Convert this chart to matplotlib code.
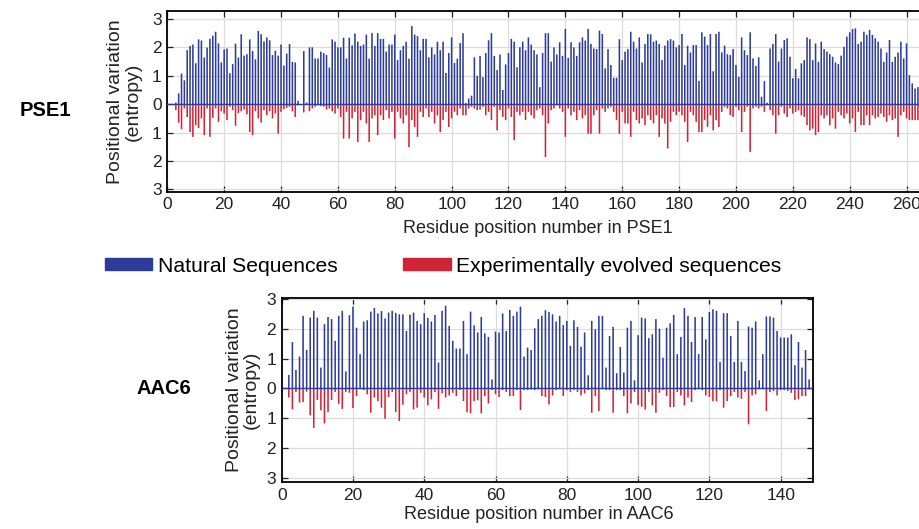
import numpy as np
import matplotlib
matplotlib.use("Agg")
from matplotlib import pyplot as plt
from matplotlib.patches import Patch
from matplotlib.ticker import FuncFormatter

plt.rcParams['font.family'] = ['Liberation Sans', 'DejaVu Sans']

# PSE1: entropy per residue, first bar at residue 3
pse1_start = 3
pse1_natural = [
    0.06, 0.38, 1.08, 0.84, 1.9, 2.05, 2.1, 1.44, 2.28, 2.24, 1.64, 1.99, 2.3, 2.41, 2.55, 2.14, 1.47, 1.93, 1.96, 1.09,
    1.41, 2.13, 1.64, 2.46, 1.71, 1.76, 2.28, 1.87, 1.58, 2.58, 2.46, 2.21, 2.35, 2.25, 1.73, 1.88, 1.71, 2.1, 1.36, 1.78,
    2.12, 1.49, 1.47,
    0.12, 0.0, 1.87, 0.06,
    2.0, 2.0, 1.61, 1.61, 1.85, 1.8, 1.73, 1.29, 2.28, 2.2, 2.0, 2.0, 2.34, 1.61, 2.34, 2.07, 2.49, 2.2,
    2.05, 2.1, 2.45, 1.6, 2.5, 2.05, 2.5, 2.3, 2.3, 1.85, 2.1, 2.1, 2.45, 1.55, 1.9, 2.05, 2.2, 1.6, 2.75, 2.45,
    2.4, 1.9, 2.3, 2.3, 1.65, 2.0, 1.75, 2.2, 1.9, 2.2, 1.1, 1.8, 2.35, 1.45, 1.6, 2.15, 2.5, 0.04, 0.2, 0.3,
    1.65, 1.0, 1.7, 0.95, 1.8, 2.25, 2.5, 1.7, 1.2, 1.75, 0.5, 1.4, 1.8, 2.3, 2.2, 1.3, 2.0, 2.2, 1.9, 2.35,
    2.1, 1.9, 1.75,
    0.6, 1.8, 2.5, 2.5, 1.5, 2.0, 1.75, 2.18, 1.7, 2.65, 1.63, 2.18, 2.0, 1.7, 2.18, 2.35, 2.24, 2.65, 2.12, 1.96,
    1.94, 2.59, 2.47, 1.26, 1.94, 1.38, 0.93, 0.93, 2.29, 1.55, 1.85, 1.94, 2.55, 2.2, 1.96, 2.35, 1.47, 2.12, 2.47, 2.46,
    2.2, 2.24, 2.12, 1.55, 2.06, 2.24, 2.29, 2.24, 2.0, 2.08, 2.47, 1.38, 2.06, 1.82, 2.08, 2.08, 0.82, 2.53, 2.38, 2.08,
    2.47, 1.16, 2.47, 2.55, 1.82, 2.06, 1.76, 1.73, 1.94, 1.38,
    0.96, 2.35, 1.9, 1.73, 2.53, 1.61, 1.35, 1.65, 0.26, 0.81, 0.05,
    1.96, 2.12, 2.47, 1.5, 1.96, 2.26, 2.32, 1.67, 0.91, 1.24, 0.91, 1.44, 1.55, 2.35, 2.29, 1.55, 2.14, 1.49, 2.2, 1.94,
    1.85, 1.76, 1.67, 1.47, 1.41, 1.71, 2.02, 2.38, 2.53, 2.65, 2.67, 2.12, 2.2, 2.55, 2.44, 2.61, 2.44, 2.32, 2.2, 1.96,
    1.49, 1.82, 2.26, 1.49, 1.67, 1.82, 2.2, 1.61, 2.14, 1.02, 0.73, 0.55, 0.6, 0.45,
]
pse1_evolved = [
    0.21, 0.65, 0.88, 0.15, 0.45, 0.98, 1.15, 0.74, 0.84, 0.5, 1.09, 0.15, 1.15, 0.48, 0.15, 0.62, 0.25, 0.33, 0.56, 0.09,
    0.21, 0.76, 0.31, 0.25, 0.19, 0.36, 0.98, 1.09, 0.25, 0.5, 0.65, 0.21, 0.39, 0.25, 0.5, 0.33, 1.04, 0.27, 0.18, 0.13,
    0.09, 0.25, 0.45,
    0.04, 0.0, 0.29, 0.03, 0.25, 0.15, 0.09, 0.04, 0.07, 0.09, 0.19, 0.15, 0.25, 0.33, 0.15, 0.45, 1.21, 0.27, 1.21, 0.5,
    0.27, 1.33,
    0.56, 0.27, 0.68, 1.33, 0.5, 0.39, 1.09, 0.39, 0.56, 0.21, 0.5, 0.27, 1.21, 0.27, 0.5, 0.68, 0.39, 1.51, 0.56, 0.8,
    1.15, 0.27, 0.45, 0.15, 0.45, 0.27, 0.68, 0.39, 0.98, 0.56, 0.27, 0.8, 0.5, 0.27, 0.39, 0.15, 0.39, 0.39, 0.15, 0.09,
    0.15, 0.21, 0.19, 0.09, 0.39, 0.27, 0.56, 0.09, 0.92, 0.21, 0.45, 0.56, 0.15, 0.45, 1.27, 0.27, 0.39, 0.27, 0.56, 0.27,
    0.39, 0.5, 0.21,
    0.15, 0.39, 1.86, 0.68, 0.21, 0.15, 0.04, 0.15, 0.27, 1.15, 0.15, 0.39, 0.27, 0.56, 0.21, 0.5, 0.39, 1.04, 1.04, 0.39,
    0.21, 1.04, 0.15, 0.27, 0.15, 0.09, 0.27, 0.56, 1.04, 0.27, 0.68, 0.68, 1.15, 0.27, 0.56, 0.68, 0.5, 0.74, 0.39, 0.56,
    0.68, 0.39, 1.15, 0.5, 0.68, 1.56, 0.62, 0.27, 0.39, 0.27, 0.39, 0.62, 1.33, 0.27, 0.39, 0.62, 0.98, 0.98, 0.56, 0.8,
    0.39, 0.92, 0.56, 0.8, 0.27, 0.09, 0.15, 0.39, 0.45, 0.09,
    0.21, 0.98, 0.27, 0.09, 1.68, 0.15, 0.09, 0.15, 0.09, 0.27, 0.04, 0.21, 0.39, 1.04, 0.39, 0.09, 0.33, 0.45, 0.15, 0.33,
    0.27, 0.21, 0.39, 0.45, 0.74, 0.92, 0.86, 1.09, 0.98, 0.39, 0.5, 0.39, 0.74, 0.5, 0.86, 0.27, 0.39, 0.5, 0.33, 0.68,
    0.5, 0.98, 0.27, 0.74, 0.74, 0.39, 0.74, 0.39, 0.5, 0.45, 0.33, 0.45, 0.62, 0.39, 0.56, 0.5, 1.15, 0.39, 0.27, 0.5,
    0.56, 0.56, 0.56, 0.56, 0.55,
]

# AAC6: first bar at residue 2
aac6_start = 2
aac6_natural = [
    0.45, 1.56, 0.62, 1.07, 2.44, 1.29, 2.38, 2.61, 2.38, 0.7, 2.16, 2.4, 2.33, 1.6, 2.44, 2.61, 0.57, 2.46, 2.75, 2.04,
    1.15, 2.25, 2.29, 2.58, 2.71, 2.52, 2.6, 2.35, 2.55, 2.61, 2.54, 2.49, 2.49, 1.93, 2.48, 2.55, 2.27, 2.16, 2.53, 2.37,
    2.25, 2.47, 0.87, 2.61, 2.78, 2.1,
    1.6, 1.34, 1.34, 2.27, 1.15, 2.58, 2.12, 1.88, 2.4, 1.85, 1.73, 0.3, 1.91, 1.88, 2.52, 1.93, 2.64, 2.44, 2.58, 2.75,
    1.07, 1.37, 1.29, 2.02, 2.33, 2.44, 2.63, 2.57, 2.49, 2.25, 2.44, 2.13, 2.27, 1.43, 2.29, 2.07, 1.4, 1.88, 0.44, 2.27,
    1.99, 2.44, 2.44, 0.7, 1.76, 2.07, 0.51, 1.39, 0.53, 2.04,
    2.27, 0.27, 1.79, 2.38, 2.35, 1.69, 1.82, 2.33, 2.01, 1.03, 2.04, 2.19, 2.47, 1.15, 1.73, 2.7, 2.44, 1.56, 2.4, 1.15,
    2.4, 1.65, 2.57, 2.66, 2.61, 0.89, 2.53, 2.53, 1.76, 0.89, 2.27, 0.89, 0.58, 2.08, 2.04, 2.25, 0.27, 1.15, 2.42, 2.42,
    2.38, 1.93, 1.71, 1.71, 1.71, 1.82, 0.78, 1.56, 0.7, 1.29, 0.3,
]
aac6_evolved = [
    0.31, 0.71, 0.12, 0.48, 0.46, 0.11, 0.91, 1.33, 0.39, 0.74, 1.18, 0.8, 0.39, 0.12, 0.52, 0.69, 0.12, 0.15, 0.66, 0.26,
    0.03, 0.06, 0.2, 0.82, 0.31, 0.43, 0.65, 1.02, 0.29, 0.12, 0.8, 1.1, 0.55, 0.2, 0.12, 0.71, 0.65, 0.15, 0.31, 0.57,
    0.37, 0.12, 0.69, 0.17, 0.31, 0.24,
    0.15, 0.26, 0.06, 0.43, 0.8, 0.84, 0.43, 0.4, 0.84, 0.26, 0.51, 0.06, 0.2, 0.29, 0.06, 0.12, 0.26, 0.26, 0.06, 0.73,
    0.06, 0.06, 0.04, 0.06, 0.03, 0.26, 0.29, 0.54, 0.24, 0.06, 0.03, 0.26, 0.06, 0.12, 0.06, 0.12, 0.24, 0.17, 0.06, 0.82,
    0.26, 0.76, 0.03, 0.06, 0.06, 0.82, 0.06, 0.06, 0.26, 0.84,
    0.51, 0.12, 0.56, 0.62, 0.71, 0.12, 0.57, 0.82, 0.15, 0.06, 0.26, 0.63, 0.63, 0.12, 0.24, 0.57, 0.31, 0.46, 0.06, 0.03,
    0.06, 0.24, 0.29, 0.43, 0.43, 0.06, 0.65, 0.43, 0.26, 0.12, 0.31, 0.35, 0.12, 1.21, 0.24, 0.2, 0.03, 0.03, 0.76, 0.12,
    0.09, 0.24, 0.06, 0.06, 0.09, 0.15, 0.39, 0.37, 0.26, 0.26, 0.03,
]

blue = '#2d3c98'
red = '#cf2436'

fig = plt.figure(figsize=(9.2, 5.29), dpi=100)

# top panel runs off the right edge of the picture
ax1 = fig.add_axes([167.3/920, 1-191.7/529, 762/920, 180.7/529])
# bottom panel
ax2 = fig.add_axes([281.7/920, 1-482.3/529, 531/920, 184.6/529])


def draw_panel(ax, start, nat, evo, xmax, ylo, yhi, name, bw):
    x = np.arange(start, start + len(nat))
    # snap=False keeps all the thin bars the same width
    ax.bar(x, nat, width=bw, color=blue, linewidth=0, zorder=2, snap=False)
    ax.bar(x, -np.array(evo), width=bw, color=red, linewidth=0, zorder=2, snap=False)
    ax.axhline(0, color=blue, lw=1.0, zorder=3)
    ax.set_xlim(0, xmax)
    ax.set_ylim(ylo, yhi)
    ax.set_xticks(np.arange(0, xmax, 20))
    ax.set_yticks([-3, -2, -1, 0, 1, 2, 3])
    ax.yaxis.set_major_formatter(FuncFormatter(lambda v, p: '%d' % abs(v)))
    ax.grid(color='#dcdcdc', lw=0.9)
    ax.set_axisbelow(True)
    ax.tick_params(direction='in', top=True, right=True, length=4, width=0.9,
                   labelsize=12.5, pad=4, colors='#222222')
    for s in ax.spines.values():
        s.set_linewidth(1.3)
        s.set_color('black')
    ax.set_xlabel("Residue position number in " + name, fontsize=13, color='#222222')
    ax.set_ylabel("Positional variation\n(entropy)", fontsize=14, color='#222222',
                  linespacing=1.0)


draw_panel(ax1, pse1_start, pse1_natural, pse1_evolved, 268, -3.08, 3.28, "PSE1", 0.55)
draw_panel(ax2, aac6_start, aac6_natural, aac6_evolved, 149, -3.16, 3.05, "AAC6", 0.44)

ax1.xaxis.set_label_coords((538-167.3)/762, -0.155)
ax1.yaxis.set_label_coords(-0.034, 0.5)
ax2.xaxis.set_label_coords((539-281.7)/531, -0.13)
ax2.yaxis.set_label_coords(-0.041, 0.5)

fig.text(20/920, 1-110/529, "PSE1", fontsize=14.5, fontweight='bold', ha='left', va='center')
fig.text(137/920, 1-388/529, "AAC6", fontsize=14.5, fontweight='bold', ha='left', va='center')

handles = [Patch(color=blue), Patch(color=red)]
fig.legend(handles, ["Natural Sequences", "Experimentally evolved sequences"],
           loc='center left', bbox_to_anchor=(105/920, 1-266/529), ncol=2,
           frameon=False, fontsize=15.2, handlelength=2.25, handleheight=0.55,
           handletextpad=0.25, columnspacing=3.12, borderpad=0, borderaxespad=0)

fig.savefig("out.png", dpi=100)
